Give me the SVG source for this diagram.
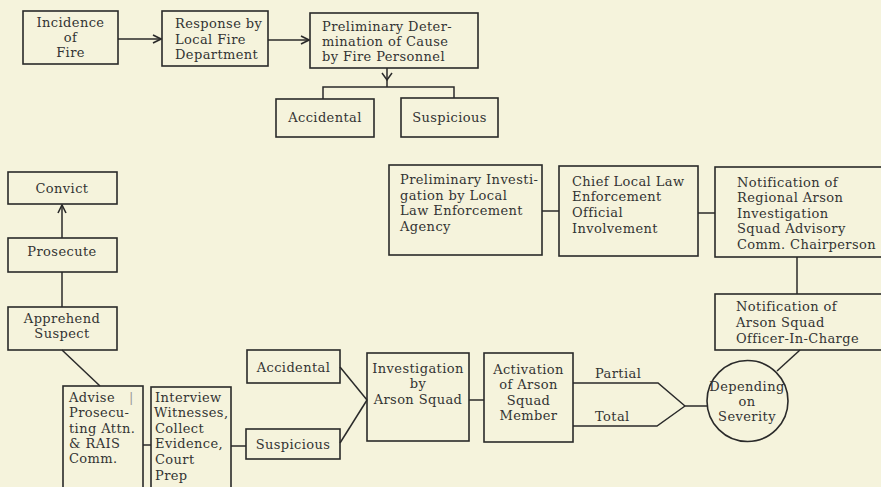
<svg xmlns="http://www.w3.org/2000/svg" width="881" height="487" viewBox="0 0 881 487">
<defs>
<style>
.bg{fill:#f5f3dc}
.box{fill:none;stroke:#2a2a2a;stroke-width:1.6}
.ln{fill:none;stroke:#2a2a2a;stroke-width:1.5}
text{font-family:"DejaVu Serif","Liberation Serif",serif;font-size:13px;fill:#333;letter-spacing:0.4px}
.c{text-anchor:middle}
</style>
<marker id="arr" viewBox="0 0 10 10" refX="9" refY="5" markerWidth="10" markerHeight="10" markerUnits="userSpaceOnUse" orient="auto">
<path d="M1,1 L9,5 L1,9" fill="none" stroke="#2a2a2a" stroke-width="1.6"/>
</marker>
</defs>
<rect class="bg" x="0" y="0" width="881" height="487"/>

<g id="connectors">
<line class="ln" x1="118" y1="39" x2="161" y2="39" marker-end="url(#arr)"/>
<line class="ln" x1="268" y1="40" x2="309" y2="40" marker-end="url(#arr)"/>
<line class="ln" x1="387" y1="68" x2="387" y2="87"/>
<polyline class="ln" points="382,73 387,80 392,73"/>
<polyline class="ln" points="323,99 323,87 454,87 454,98"/>
<line class="ln" x1="62" y1="238" x2="62" y2="205" marker-end="url(#arr)"/>
<line class="ln" x1="62" y1="272" x2="62" y2="307"/>
<line class="ln" x1="62" y1="350" x2="100" y2="386"/>
<line class="ln" x1="143" y1="445" x2="151" y2="445"/>
<line class="ln" x1="231" y1="446" x2="246" y2="446"/>
<line class="ln" x1="340" y1="367" x2="367" y2="400"/>
<line class="ln" x1="340" y1="443" x2="367" y2="400"/>
<line class="ln" x1="469" y1="400" x2="484" y2="400"/>
<polyline class="ln" points="573,383 658,383 685,406"/>
<polyline class="ln" points="573,426 657,426 685,406"/>
<line class="ln" x1="685" y1="406" x2="707" y2="406"/>
<line class="ln" x1="777" y1="371" x2="800" y2="350"/>
<line class="ln" x1="797" y1="257" x2="797" y2="294"/>
<line class="ln" x1="542" y1="211" x2="559" y2="211"/>
<line class="ln" x1="698" y1="213" x2="715" y2="213"/>
<text x="595" y="378">Partial</text>
<text x="595" y="421">Total</text>
</g>

<g id="incidence">
<rect class="box" x="23" y="11" width="95" height="53"/>
<text class="c" x="70.5" y="27">Incidence</text>
<text class="c" x="70.5" y="42">of</text>
<text class="c" x="70.5" y="57">Fire</text>
</g>

<g id="response">
<rect class="box" x="162" y="11" width="106" height="55"/>
<text x="175" y="28">Response by</text>
<text x="175" y="43.5">Local Fire</text>
<text x="175" y="58.5">Department</text>
</g>

<g id="prelim-determination">
<rect class="box" x="310" y="13" width="168" height="55"/>
<text x="322" y="30.5">Preliminary Deter-</text>
<text x="322" y="45.5">mination of Cause</text>
<text x="322" y="60.5">by Fire Personnel</text>
</g>

<g id="accidental-top">
<rect class="box" x="276" y="99" width="98" height="38"/>
<text class="c" x="325" y="122">Accidental</text>
</g>

<g id="suspicious-top">
<rect class="box" x="401" y="98" width="97" height="39"/>
<text class="c" x="449.5" y="122">Suspicious</text>
</g>

<g id="convict">
<rect class="box" x="8" y="172" width="109" height="32"/>
<text class="c" x="62" y="193">Convict</text>
</g>

<g id="prosecute">
<rect class="box" x="8" y="238" width="109" height="34"/>
<text class="c" x="62" y="256">Prosecute</text>
</g>

<g id="apprehend">
<rect class="box" x="8" y="307" width="109" height="43"/>
<text class="c" x="62" y="323">Apprehend</text>
<text class="c" x="62" y="338">Suspect</text>
</g>

<g id="advise">
<rect class="box" x="63" y="386" width="80" height="110"/>
<text x="69" y="401.7">Advise</text>
<text x="129" y="401.7" fill="#888" style="fill:#999">|</text>
<text x="69" y="417">Prosecu-</text>
<text x="69" y="432.5">ting Attn.</text>
<text x="69" y="448">&amp; RAIS</text>
<text x="69" y="463">Comm.</text>
</g>

<g id="interview">
<rect class="box" x="151" y="387" width="80" height="110"/>
<text x="155" y="401.7">Interview</text>
<text x="154" y="417">Witnesses,</text>
<text x="155" y="432.7">Collect</text>
<text x="155" y="448">Evidence,</text>
<text x="155" y="464">Court</text>
<text x="155" y="479.5">Prep</text>
</g>

<g id="accidental-bottom">
<rect class="box" x="247" y="350" width="93" height="33"/>
<text class="c" x="293.5" y="372">Accidental</text>
</g>

<g id="suspicious-bottom">
<rect class="box" x="246" y="429" width="94" height="30"/>
<text class="c" x="293" y="449">Suspicious</text>
</g>

<g id="investigation">
<rect class="box" x="367" y="353" width="102" height="88"/>
<text class="c" x="418" y="372.5">Investigation</text>
<text class="c" x="418" y="388">by</text>
<text class="c" x="418" y="403.5">Arson Squad</text>
</g>

<g id="activation">
<rect class="box" x="484" y="353" width="89" height="89"/>
<text class="c" x="528.5" y="373.5">Activation</text>
<text class="c" x="528.5" y="389.3">of Arson</text>
<text class="c" x="528.5" y="404.7">Squad</text>
<text class="c" x="528.5" y="420">Member</text>
</g>

<g id="severity">
<circle class="box" cx="747.5" cy="401" r="40.5"/>
<text class="c" x="747" y="391">Depending</text>
<text class="c" x="747" y="406">on</text>
<text class="c" x="747" y="421">Severity</text>
</g>

<g id="prelim-investigation">
<rect class="box" x="389" y="165" width="153" height="90"/>
<text x="400" y="184">Preliminary Investi-</text>
<text x="400" y="199.5">gation by Local</text>
<text x="400" y="215">Law Enforcement</text>
<text x="400" y="230.5">Agency</text>
</g>

<g id="chief">
<rect class="box" x="559" y="166" width="139" height="90"/>
<text x="572" y="185.7">Chief Local Law</text>
<text x="572" y="201.3">Enforcement</text>
<text x="572" y="217">Official</text>
<text x="572" y="232.5">Involvement</text>
</g>

<g id="notify-regional">
<rect class="box" x="715" y="167" width="180" height="90"/>
<text x="737" y="186.7">Notification of</text>
<text x="737" y="202.2">Regional Arson</text>
<text x="737" y="217.7">Investigation</text>
<text x="737" y="233.2">Squad Advisory</text>
<text x="737" y="248.5">Comm. Chairperson</text>
</g>

<g id="notify-officer">
<rect class="box" x="715" y="294" width="180" height="56"/>
<text x="736" y="311">Notification of</text>
<text x="736" y="327">Arson Squad</text>
<text x="736" y="343">Officer-In-Charge</text>
</g>
</svg>
